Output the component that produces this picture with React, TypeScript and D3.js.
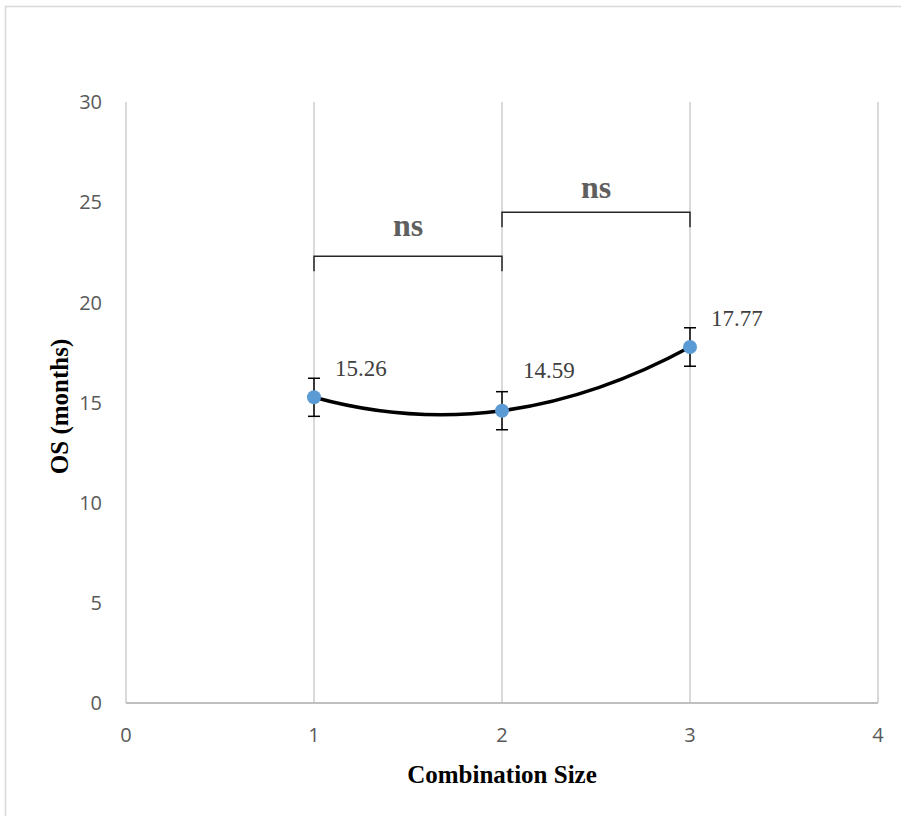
import React, { useRef, useEffect } from 'react';
import * as d3 from 'd3';

// Données
const sizes = [1, 2, 3];
const osMonths = [15.26, 14.59, 17.77];
const errMonths = [0.95, 0.95, 0.96];
const xTicks = [0, 1, 2, 3, 4];
const yTicks = [0, 5, 10, 15, 20, 25, 30];
const brackets = [
  { from: 1, to: 2, level: 22.3, label: 'ns' },
  { from: 2, to: 3, level: 24.5, label: 'ns' },
];

const WIDTH = 901;
const HEIGHT = 816;
const labelDy = [-21, -33, -21]; // décalage vertical des étiquettes
const nsDy = [-20, -14];

// Courbe lissée : parabole locale (quadratique) passant par chaque triplet de points
const curveQuadratic = (context: any) => {
  let pts: [number, number][] = [];
  const slopeAt = (x: number, a: [number, number], b: [number, number], c: [number, number]) =>
    a[1] * ((x - b[0]) + (x - c[0])) / ((a[0] - b[0]) * (a[0] - c[0])) +
    b[1] * ((x - a[0]) + (x - c[0])) / ((b[0] - a[0]) * (b[0] - c[0])) +
    c[1] * ((x - a[0]) + (x - b[0])) / ((c[0] - a[0]) * (c[0] - b[0]));
  return {
    areaStart() {},
    areaEnd() {},
    lineStart() { pts = []; },
    point(x: number, y: number) { pts.push([+x, +y]); },
    lineEnd() {
      const n = pts.length;
      if (!n) return;
      context.moveTo(pts[0][0], pts[0][1]);
      if (n < 3) {
        pts.slice(1).forEach(p => context.lineTo(p[0], p[1]));
        return;
      }
      for (let i = 0; i < n - 1; i++) {
        const j = i + 2 < n ? i : i - 1;
        const s = slopeAt(pts[i][0], pts[j], pts[j + 1], pts[j + 2]);
        const dx = pts[i + 1][0] - pts[i][0];
        context.quadraticCurveTo(pts[i][0] + dx / 2, pts[i][1] + s * dx / 2, pts[i + 1][0], pts[i + 1][1]);
      }
    },
  };
};

const App: React.FC = () => {
  const svgRef = useRef<SVGSVGElement>(null);

  useEffect(() => {
    if (!svgRef.current) return;
    d3.select(svgRef.current).selectAll('*').remove();

    const svg = d3.select(svgRef.current)
      .attr('width', WIDTH)
      .attr('height', HEIGHT);

    svg.append('rect')
      .attr('width', WIDTH).attr('height', HEIGHT).attr('fill', '#fff');

    // cadre du graphique
    svg.append('rect')
      .attr('x', 5.5).attr('y', 6.5)
      .attr('width', 1000).attr('height', 1000)
      .attr('fill', 'none').attr('stroke', '#d9d9d9').attr('stroke-width', 1.5);

    const xScale = d3.scaleLinear().domain([0, 4]).range([126, 878]);
    const yScale = d3.scaleLinear().domain([0, 30]).range([703, 102]);

    // grilles verticales
    svg.append('g')
      .selectAll('line')
      .data(xTicks)
      .join('line')
      .attr('x1', d => xScale(d)).attr('x2', d => xScale(d))
      .attr('y1', yScale(30)).attr('y2', yScale(0))
      .attr('stroke', '#d9d9d9').attr('stroke-width', 2);

    // axe X
    svg.append('line')
      .attr('x1', xScale(0)).attr('x2', xScale(4))
      .attr('y1', yScale(0)).attr('y2', yScale(0))
      .attr('stroke', '#bfbfbf').attr('stroke-width', 2);

    svg.append('g')
      .selectAll('text')
      .data(xTicks)
      .join('text')
      .attr('x', d => xScale(d))
      .attr('y', yScale(0) + 39)
      .attr('text-anchor', 'middle')
      .attr('font-family', 'Open Sans, sans-serif')
      .attr('font-size', 20)
      .attr('fill', '#595959')
      .text(d => d);

    svg.append('g')
      .selectAll('text')
      .data(yTicks)
      .join('text')
      .attr('x', 102)
      .attr('y', d => yScale(d))
      .attr('dy', '0.36em')
      .attr('text-anchor', 'end')
      .attr('font-family', 'Open Sans, sans-serif')
      .attr('font-size', 20)
      .attr('fill', '#595959')
      .text(d => d);

    // titres des axes
    svg.append('text')
      .attr('x', xScale(2))
      .attr('y', 783)
      .attr('text-anchor', 'middle')
      .attr('font-family', 'Liberation Serif, Times New Roman, serif')
      .attr('font-weight', 'bold')
      .attr('font-size', 25)
      .attr('fill', '#000')
      .text('Combination Size');

    svg.append('text')
      .attr('transform', `translate(68, ${yScale(15) + 4}) rotate(-90)`)
      .attr('text-anchor', 'middle')
      .attr('font-family', 'Liberation Serif, Times New Roman, serif')
      .attr('font-weight', 'bold')
      .attr('font-size', 25)
      .attr('fill', '#000')
      .text('OS (months)');

    // crochets de significativité
    brackets.forEach((b, i) => {
      const x1 = xScale(b.from);
      const x2 = xScale(b.to);
      const y = yScale(b.level);
      svg.append('path')
        .attr('d', `M${x1},${y + 15}V${y}H${x2}V${y + 15}`)
        .attr('fill', 'none')
        .attr('stroke', '#262626')
        .attr('stroke-width', 1.5);
      svg.append('text')
        .attr('x', (x1 + x2) / 2)
        .attr('y', y + nsDy[i])
        .attr('text-anchor', 'middle')
        .attr('font-family', 'Liberation Serif, Times New Roman, serif')
        .attr('font-weight', 'bold')
        .attr('font-size', 32)
        .attr('fill', '#5f5f5f')
        .text(b.label);
    });

    const points = sizes.map((s, i) => ({ x: s, y: osMonths[i], e: errMonths[i] }));

    // courbe lissée
    const line = d3.line<{ x: number; y: number }>()
      .x(d => xScale(d.x))
      .y(d => yScale(d.y))
      .curve(curveQuadratic as any);

    svg.append('path')
      .datum(points)
      .attr('fill', 'none')
      .attr('stroke', '#000')
      .attr('stroke-width', 3.5)
      .attr('d', line);

    // barres d'erreur
    const err = svg.append('g').attr('stroke', '#000').attr('stroke-width', 1.5);
    points.forEach(p => {
      const cx = xScale(p.x);
      const top = yScale(p.y + p.e);
      const bot = yScale(p.y - p.e);
      err.append('line').attr('x1', cx).attr('x2', cx).attr('y1', top).attr('y2', bot);
      err.append('line').attr('x1', cx - 6).attr('x2', cx + 6).attr('y1', top).attr('y2', top);
      err.append('line').attr('x1', cx - 6).attr('x2', cx + 6).attr('y1', bot).attr('y2', bot);
    });

    svg.append('g')
      .selectAll('circle')
      .data(points)
      .join('circle')
      .attr('cx', d => xScale(d.x))
      .attr('cy', d => yScale(d.y))
      .attr('r', 7)
      .attr('fill', '#5b9bd5');

    // étiquettes de valeurs
    svg.append('g')
      .selectAll('text')
      .data(points)
      .join('text')
      .attr('x', d => xScale(d.x) + 21)
      .attr('y', (d, i) => yScale(d.y) + labelDy[i])
      .attr('font-family', 'Liberation Serif, Times New Roman, serif')
      .attr('font-size', 23)
      .attr('fill', '#404040')
      .text(d => d.y.toFixed(2));
  }, []);

  return (
    <svg ref={svgRef} style={{ position: 'absolute', left: 0, top: 0 }}></svg>
  );
};

export default App;
